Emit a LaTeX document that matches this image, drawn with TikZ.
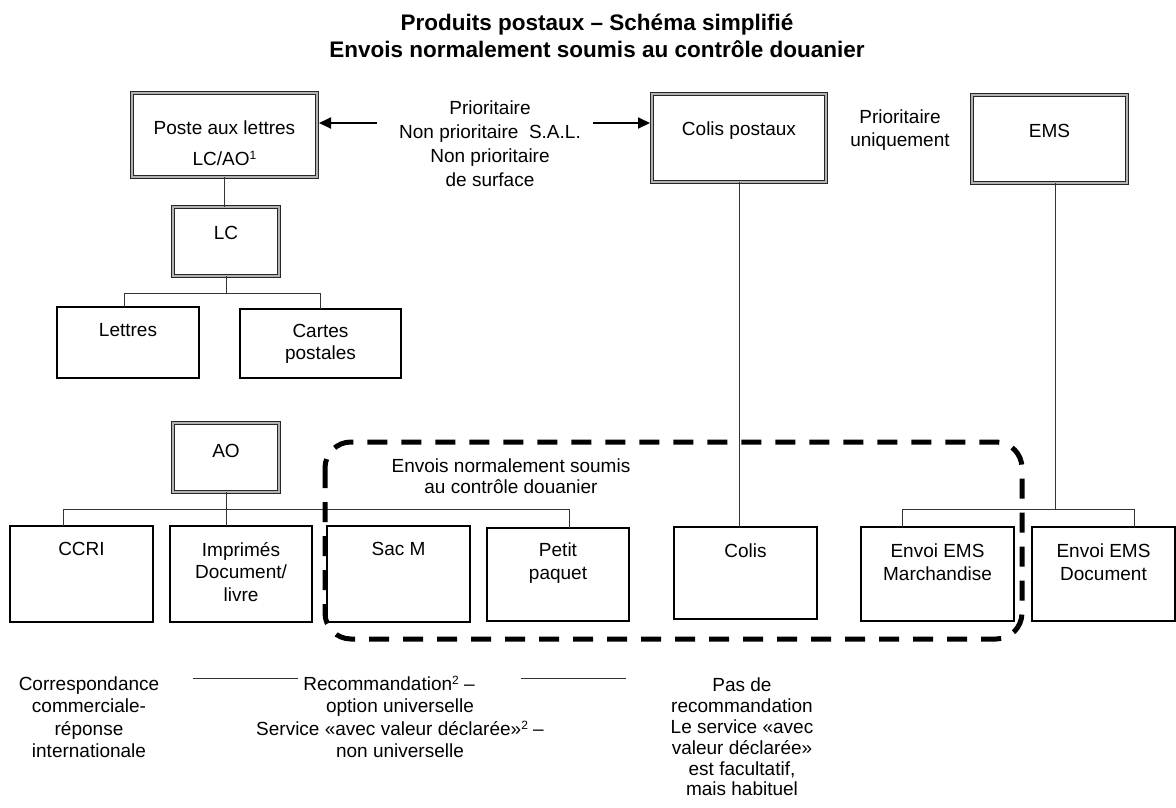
\documentclass[tikz,border=0pt]{standalone}
\usepackage{fontspec}
\setmainfont{Liberation Sans}
\usetikzlibrary{arrows.meta}
\newcommand{\expo}[1]{\raisebox{6pt}{\fontsize{12}{12}\selectfont #1}}

\begin{document}
\begin{tikzpicture}[x=1pt,y=-1pt,font=\fontsize{19}{22.5}\selectfont]
\tikzset{boite/.style={draw, line width=2.4pt, inner sep=0pt, outer sep=0pt},
  dboite/.style={draw=black!85, double=gray!60, double distance=1.8pt, line width=1.1pt, inner sep=0pt, outer sep=0pt},
  lbl/.style={anchor=north, yshift=-16pt, align=center, inner sep=0pt},
  lien/.style={draw=black!80, line width=1pt},
  fleche/.style={line width=2pt, -{Triangle[length=12pt,width=11pt]}, shorten >=2pt},
  zone/.style={line width=5pt, dash pattern=on 20pt off 14pt, rounded corners=26pt}}
\useasboundingbox (0,0) rectangle (1176,807);
\node[align=center, font=\bfseries\fontsize{22.5}{27}\selectfont] (titre) at (597,36) {Produits postaux – Schéma simplifié\\Envois normalement soumis au contrôle douanier};
\node[dboite, minimum width=185pt, minimum height=84pt, label={[lbl, yshift=-12pt]north:{Poste aux lettres\\[8pt]LC/AO\expo{1}}}] (poste) at (224.5,135) {};
\node[dboite, minimum width=174pt, minimum height=88pt, label={[lbl, yshift=-12pt]north:Colis postaux}] (colispost) at (739,138) {};
\node[dboite, minimum width=155pt, minimum height=88pt, label={[lbl, yshift=-13pt]north:EMS}] (ems) at (1049.5,139) {};
\node[align=center, font=\fontsize{19}{24}\selectfont] (prio) at (490,144) {Prioritaire\\Non prioritaire \ S.A.L.\\Non prioritaire\\de surface};
\node[align=center, font=\fontsize{19}{23}\selectfont] (prioems) at (900,130) {Prioritaire\\uniquement};
\node[dboite, minimum width=106pt, minimum height=69pt, label={[lbl, yshift=-3pt]north:LC}] (lc) at (226,241.5) {};
\node[boite, minimum width=142pt, minimum height=71pt, label={[lbl]north:Lettres}] (lettres) at (128,342.5) {};
\node[boite, minimum width=161pt, minimum height=69pt, label={[lbl, yshift=1pt]north:{Cartes\\postales}}] (cartes) at (320.5,343.5) {};
\node[dboite, minimum width=106pt, minimum height=69pt, label={[lbl, yshift=-5pt]north:AO}] (ao) at (226,457.5) {};
\node[boite, minimum width=143pt, minimum height=96pt, label={[lbl]north:CCRI}] (ccri) at (81.5,574) {};
\node[boite, minimum width=142pt, minimum height=96pt, label={[lbl]north:{Imprimés\\Document/\\livre}}] (imprimes) at (241,574) {};
\node[boite, minimum width=143pt, minimum height=96pt, label={[lbl]north:Sac M}] (sacm) at (398.5,574) {};
\node[boite, minimum width=142pt, minimum height=93pt, label={[lbl, yshift=1pt]north:{Petit\\paquet}}] (petit) at (558,574.5) {};
\node[boite, minimum width=143pt, minimum height=92pt, label={[lbl, yshift=-1pt]north:Colis}] (colis) at (745.5,573) {};
\node[boite, minimum width=153pt, minimum height=94pt, label={[lbl, yshift=-1pt]north:{Envoi EMS\\Marchandise}}] (envmarch) at (937.5,574) {};
\node[boite, minimum width=143pt, minimum height=94pt, label={[lbl, yshift=-1pt]north:{Envoi EMS\\Document}}] (envdoc) at (1103.5,574) {};
\node[align=center, font=\fontsize{19}{21}\selectfont] (zonetxt) at (511,476.5) {Envois normalement soumis\\au contrôle douanier};
\node[align=center] (ccritxt) at (89,717) {Correspondance\\commerciale-\\réponse\\internationale};
\node[align=center] (reco) at (400,717) {Recommandation\expo{2} –\hspace*{22pt}\\option universelle\\Service «avec valeur déclarée»\expo{2} –\\non universelle};
\node[align=center, font=\fontsize{19}{20.8}\selectfont] (pasde) at (742,737) {Pas de\\recommandation\\Le service «avec\\valeur déclarée»\\est facultatif,\\mais habituel};
\coordinate (pl) at (377,123);
\coordinate (pr) at (593,123);
\coordinate (emsbus) at (1055,509);
\coordinate (s1a) at (193,678);
\coordinate (s1b) at (298,678);
\coordinate (s2a) at (521,678);
\coordinate (s2b) at (626,678);
\draw[fleche] (pl) -- (pl -| poste.east);
\draw[fleche] (pr) -- (pr -| colispost.west);
\draw[lien] (poste.south) -- (poste.south |- lc.north);
\draw[lien] (lc.south) -- ++(0,17);
\draw[lien] ([xshift=-4pt]lettres.north) -- ++(0,-14) -| (cartes.north);
\draw[lien] (ao.south) -- (ao.south |- imprimes.north);
\draw[lien] ([xshift=-18.5pt]ccri.north) -- ++(0,-17) -| ([xshift=11pt]petit.north);
\draw[lien] (colispost.south) -- (colispost.south |- colis.north);
\draw[lien] (ems.south -| emsbus) -- (emsbus);
\draw[lien] ([xshift=-35.5pt]envmarch.north) |- (emsbus) -| ([xshift=30.5pt]envdoc.north);
\draw[lien] (s1a) -- (s1b);
\draw[lien] (s2a) -- (s2b);
\draw[zone] (325,442) rectangle (1022,639);
\end{tikzpicture}
\end{document}
